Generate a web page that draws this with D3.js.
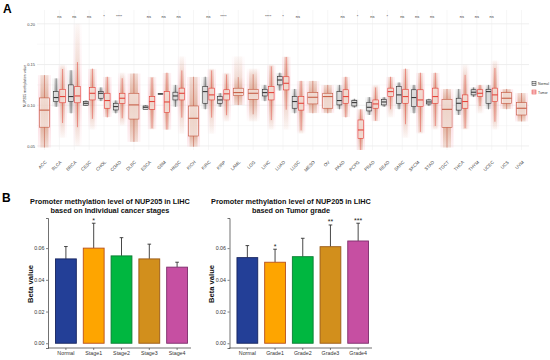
<!DOCTYPE html>
<html><head><meta charset="utf-8">
<script src="https://cdn.jsdelivr.net/npm/d3@7"></script>
<style>body{margin:0;background:#fff} svg{display:block} text{font-family:"Liberation Sans",Arial,sans-serif}</style>
</head><body>
<svg id="c" width="550" height="360"></svg>
<script>
// ---------- Panel A data ----------
const cancers = ["ACC","BLCA","BRCA","CESC","CHOL","COAD","DLBC","ESCA","GBM","HNSC","KICH","KIRC","KIRP","LAML","LGG","LIHC","LUAD","LUSC","MESO","OV","PAAD","PCPG","PRAD","READ","SARC","SKCM","STAD","TGCT","THCA","THYM","UCEC","UCS","UVM"];
const sigLabels = ["","ns","ns","ns","*","****","","ns","ns","ns","","ns","****","","","****","*","ns","","","ns","*","ns","*","ns","ns","ns","","ns","ns","ns","",""];
// tumor distribution: min, q1, median, q3, max
const tumorMin = [0.048,0.060,0.050,0.070,0.085,0.075,0.055,0.070,0.070,0.065,0.049,0.065,0.080,0.100,0.080,0.070,0.070,0.065,0.090,0.090,0.085,0.045,0.080,0.085,0.060,0.065,0.070,0.048,0.070,0.090,0.070,0.095,0.080];
const tumorQ1  = [0.073,0.103,0.103,0.1065,0.0963,0.1024,0.083,0.095,0.091,0.1065,0.0622,0.1065,0.1065,0.1118,0.1073,0.1065,0.1188,0.094,0.1016,0.0963,0.1024,0.0594,0.0963,0.1106,0.1024,0.0983,0.1024,0.0729,0.0963,0.111,0.1045,0.1024,0.088];
const tumorMed = [0.094,0.1106,0.1114,0.1147,0.1057,0.1086,0.1004,0.1045,0.104,0.1147,0.084,0.1127,0.114,0.1155,0.1147,0.1155,0.127,0.1024,0.1098,0.1106,0.1106,0.0696,0.1016,0.1167,0.1106,0.1065,0.1106,0.095,0.1045,0.1147,0.1127,0.1086,0.0963];
const tumorQ3  = [0.109,0.1196,0.123,0.122,0.1147,0.1147,0.1147,0.1106,0.1167,0.121,0.0991,0.121,0.119,0.1209,0.1196,0.123,0.135,0.1106,0.1155,0.1147,0.119,0.0819,0.1065,0.121,0.1196,0.119,0.121,0.1073,0.1127,0.119,0.121,0.1155,0.1032];
const tumorMax = [0.137,0.150,0.200,0.145,0.135,0.140,0.139,0.135,0.140,0.160,0.135,0.145,0.140,0.160,0.145,0.150,0.160,0.130,0.130,0.125,0.135,0.095,0.125,0.135,0.145,0.140,0.140,0.120,0.150,0.125,0.155,0.120,0.115];
// normal distribution (null = no normal samples)
const normalMin = [null,0.098,0.090,0.099,0.105,0.090,null,0.095,0.1135,0.098,null,0.095,0.098,null,null,0.105,0.118,0.090,null,null,0.095,0.097,0.088,0.098,0.095,0.090,0.099,null,0.088,0.110,0.095,null,null];
const normalQ1  = [null,0.1045,0.1045,0.100,0.1086,0.0942,null,0.095,0.1137,0.1065,null,0.1024,0.1024,null,null,0.1114,0.125,0.0963,null,null,0.1004,0.0991,0.093,0.1004,0.1024,0.0983,0.1016,null,0.094,0.1127,0.1024,null,null];
const normalMed = [null,0.1094,0.1106,0.1024,0.1147,0.0983,null,0.0975,0.1139,0.1114,null,0.1167,0.1065,null,null,0.1155,0.131,0.1045,null,null,0.1057,0.1032,0.0975,0.104,0.1127,0.1094,0.104,null,0.1024,0.116,0.1167,null,null];
const normalQ3  = [null,0.1167,0.125,0.1045,0.1167,0.1024,null,0.0991,0.1141,0.116,null,0.123,0.1106,null,null,0.1196,0.1352,0.1106,null,null,0.1167,0.1057,0.1032,0.1073,0.123,0.119,0.1065,null,0.1086,0.119,0.1196,null,null];
const normalMax = [null,0.133,0.143,0.106,0.122,0.106,null,0.100,0.1143,0.125,null,0.135,0.115,null,null,0.125,0.140,0.120,null,null,0.125,0.108,0.110,0.110,0.128,0.125,0.108,null,0.120,0.122,0.125,null,null];
const yTicksA = [0.05,0.10,0.15,0.20];

// ---------- Panel B data ----------
const stageCats = ["Normal","Stage1","Stage2","Stage3","Stage4"];
const stageMeans = [0.0532,0.0600,0.0551,0.0532,0.0480];
const stageErrTop = [0.0610,0.0757,0.0666,0.0625,0.0511];
const stageSig = ["","*","","",""];
const gradeCats = ["Normal","Grade1","Grade2","Grade3","Grade4"];
const gradeMeans = [0.0540,0.0511,0.0546,0.0609,0.0645];
const gradeErrTop = [0.0616,0.0593,0.0662,0.0746,0.0757];
const gradeSig = ["","*","","**","***"];
const yTicksB = [0.00,0.02,0.04,0.06];
const barFills = ["#233f97","#fea500","#00b740","#d28f1c","#c64fa2"];
const barStrokes = ["#16245e","#b8501c","#0a7d33","#9a5a16","#7d2d6b"];

const svg = d3.select("#c");
const defs = svg.append("defs");

// ---------- Panel A ----------
const xA = d3.scaleBand().domain(cancers).range([37,529]);
const yA = d3.scaleLinear().domain([0.045,0.217]).range([150,10]);
const gA = svg.append("g");

// minor + major grid
[0.075,0.125,0.175].forEach(v=>gA.append("line").attr("x1",37).attr("x2",529).attr("y1",yA(v)).attr("y2",yA(v)).attr("stroke","#f3f3f3").attr("stroke-width",0.5));
yTicksA.forEach(v=>gA.append("line").attr("x1",37).attr("x2",529).attr("y1",yA(v)).attr("y2",yA(v)).attr("stroke","#e4e4e4").attr("stroke-width",0.6));
cancers.forEach(c=>gA.append("line").attr("x1",xA(c)+xA.bandwidth()/2).attr("x2",xA(c)+xA.bandwidth()/2).attr("y1",10).attr("y2",150).attr("stroke","#ececec").attr("stroke-width",0.5));

let gid = 0;
function band(g, cx, w, st, col, op){
  const id = "gr"+(gid++);
  const y1 = yA(st.max), y2 = yA(st.min), h = Math.max(y2-y1, 0.5);
  const off = v => Math.min(1, Math.max(0, (yA(v)-y1)/h));
  const gr = defs.append("linearGradient").attr("id",id).attr("x1",0).attr("x2",0).attr("y1",0).attr("y2",1);
  [[0,0.06],[off(st.whHi),0.3],[off(st.q3),0.7],[off(st.med),0.85],[off(st.q1),0.7],[off(st.whLo),0.3],[1,0.06]]
    .forEach(s=>gr.append("stop").attr("offset",s[0]).attr("stop-color",col).attr("stop-opacity",s[1]*op));
  g.append("rect").attr("x",cx-w/2).attr("width",w).attr("y",y1).attr("height",h).attr("fill",`url(#${id})`);
}
function boxplot(g, cx, w, st, stroke, halo, dots){
  band(g, cx, w+3, st, halo, 0.45);
  band(g, cx, w*0.8, st, dots, 0.55);
  g.append("line").attr("x1",cx).attr("x2",cx).attr("y1",yA(st.q3)).attr("y2",yA(st.whHi)).attr("stroke",stroke).attr("stroke-width",0.5);
  g.append("line").attr("x1",cx).attr("x2",cx).attr("y1",yA(st.q1)).attr("y2",yA(st.whLo)).attr("stroke",stroke).attr("stroke-width",0.5);
  g.append("rect").attr("x",cx-w/2).attr("width",w).attr("y",yA(st.q3)).attr("height",Math.max(0.4,yA(st.q1)-yA(st.q3)))
    .attr("fill","#ffffff").attr("fill-opacity",0.5).attr("stroke",stroke).attr("stroke-width",0.6);
  g.append("line").attr("x1",cx-w/2).attr("x2",cx+w/2).attr("y1",yA(st.med)).attr("y2",yA(st.med)).attr("stroke",stroke).attr("stroke-width",1);
}
function stats(mn,q1,md,q3,mx){
  const iqr = q3-q1;
  return {min:mn,q1:q1,med:md,q3:q3,max:mx,whLo:Math.max(mn,q1-1.5*iqr),whHi:Math.min(mx,q3+1.5*iqr)};
}
cancers.forEach((c,i)=>{
  const cx = xA(c)+xA.bandwidth()/2;
  const ts = stats(tumorMin[i],tumorQ1[i],tumorMed[i],tumorQ3[i],tumorMax[i]);
  if(normalQ1[i]!==null){
    const ns = stats(normalMin[i],normalQ1[i],normalMed[i],normalQ3[i],normalMax[i]);
    boxplot(gA, cx-3.2, 5, ns, "#2b2b2b", "#c9c9c9", "#6e6e6e");
    boxplot(gA, cx+3.2, 5.5, ts, "#e3392f", "#f7a3b3", "#b9733d");
  } else {
    boxplot(gA, cx, 10, ts, "#c4553c", "#f7a3b3", "#b9733d");
  }
  if(sigLabels[i]) gA.append("text").attr("x",cx).attr("y",17.5).attr("text-anchor","middle").attr("font-size",4).attr("fill","#333").text(sigLabels[i]);
});

// axes A
const axA = gA.append("g").attr("transform","translate(37,0)").call(d3.axisLeft(yA).tickValues(yTicksA).tickFormat(d3.format(".2f")).tickSize(0).tickPadding(2));
axA.select(".domain").remove();
axA.selectAll("text").attr("font-size",4).attr("fill","#444").style("font-family","Liberation Sans, Arial");
const axXA = gA.append("g").attr("transform","translate(0,152)").call(d3.axisBottom(xA).tickSize(0));
axXA.select(".domain").remove();
axXA.selectAll("text").attr("font-size",4.5).attr("fill","#444").attr("y",0).attr("dy",0).attr("text-anchor","end")
  .attr("transform","translate(2.5,10.5) rotate(-45)").style("font-family","Liberation Sans, Arial");
gA.append("text").attr("transform","translate(25.5,86) rotate(-90)").attr("text-anchor","middle").attr("font-size",3.6).attr("fill","#333").text("NUP205 methylation value");

// legend A
const lg = gA.append("g");
[["Normal","#2b2b2b","#c9c9c9",84],["Tumor","#e3392f","#f7a3b3",92.5]].forEach(d=>{
  lg.append("rect").attr("x",532).attr("y",d[3]-2.5).attr("width",4).attr("height",4).attr("fill",d[2]).attr("fill-opacity",0.5).attr("stroke",d[1]).attr("stroke-width",0.5);
  lg.append("line").attr("x1",532).attr("x2",536).attr("y1",d[3]-0.5).attr("y2",d[3]-0.5).attr("stroke",d[1]).attr("stroke-width",0.5);
  lg.append("text").attr("x",538).attr("y",d[3]+1).attr("font-size",3.4).attr("fill","#333").text(d[0]);
});

svg.append("text").attr("x",3).attr("y",13).attr("font-size",12).attr("font-weight","bold").text("A");
svg.append("text").attr("x",2).attr("y",201.5).attr("font-size",12).attr("font-weight","bold").text("B");

// ---------- Panel B ----------
function barPanel(x0, x1, cats, means, errTop, sig, title1, title2, tcx){
  const g = svg.append("g");
  const x = d3.scaleBand().domain(cats).range([x0+4, x1]).paddingInner(0.25).paddingOuter(0.125);
  const y = d3.scaleLinear().domain([-0.003,0.079]).range([348,218]);
  g.append("text").attr("x",tcx).attr("y",203.5).attr("text-anchor","middle").attr("font-size",7.3).attr("font-weight","bold").attr("fill","#111").text(title1);
  g.append("text").attr("x",tcx).attr("y",212.5).attr("text-anchor","middle").attr("font-size",7.3).attr("font-weight","bold").attr("fill","#111").text(title2);
  cats.forEach((c,i)=>{
    const cx = x(c)+x.bandwidth()/2;
    g.append("line").attr("x1",cx).attr("x2",cx).attr("y1",y(means[i])).attr("y2",y(errTop[i])).attr("stroke","#333").attr("stroke-width",0.9);
    g.append("line").attr("x1",cx-1.8).attr("x2",cx+1.8).attr("y1",y(errTop[i])).attr("y2",y(errTop[i])).attr("stroke","#333").attr("stroke-width",0.9);
    if(sig[i]) g.append("text").attr("x",cx).attr("y",y(errTop[i])-0.5).attr("text-anchor","middle").attr("font-size",7).attr("fill","#222").text(sig[i]);
  });
  g.selectAll("rect.bar").data(cats).join("rect").attr("class","bar")
    .attr("x",d=>x(d)).attr("width",x.bandwidth())
    .attr("y",(d,i)=>y(means[i])).attr("height",(d,i)=>y(0)-y(means[i]))
    .attr("fill",(d,i)=>barFills[i]).attr("stroke",(d,i)=>barStrokes[i]).attr("stroke-width",0.9);
  const ay = g.append("g").attr("transform",`translate(${x0},0)`).call(d3.axisLeft(y).tickValues(yTicksB).tickFormat(d3.format(".2f")).tickSize(2).tickPadding(1.5));
  ay.select(".domain").attr("stroke","#333").attr("stroke-width",0.7);
  ay.selectAll(".tick line").attr("stroke","#333").attr("stroke-width",0.6);
  ay.selectAll("text").attr("font-size",5.3).attr("fill","#333").style("font-family","Liberation Sans, Arial");
  const ax = g.append("g").attr("transform","translate(0,348)").call(d3.axisBottom(x).tickSize(2).tickPadding(1.5).tickSizeOuter(0));
  ax.select(".domain").attr("stroke","#333").attr("stroke-width",0.7).attr("d",`M${x0},0H${x1}`);
  ax.selectAll(".tick line").attr("stroke","#333").attr("stroke-width",0.6);
  ax.selectAll("text").attr("font-size",5.3).attr("fill","#333").style("font-family","Liberation Sans, Arial");
  g.append("text").attr("transform",`translate(${x0-15.5},284) rotate(-90)`).attr("text-anchor","middle").attr("font-size",7.6).attr("font-weight","bold").attr("fill","#111").text("Beta value");
}
barPanel(48, 191, stageCats, stageMeans, stageErrTop, stageSig, "Promoter methylation level of NUP205 in LIHC", "based on Individual cancer stages", 110);
barPanel(229.5, 372, gradeCats, gradeMeans, gradeErrTop, gradeSig, "Promoter methylation level of NUP205 in LIHC", "based on Tumor grade", 291);
</script>
</body></html>
